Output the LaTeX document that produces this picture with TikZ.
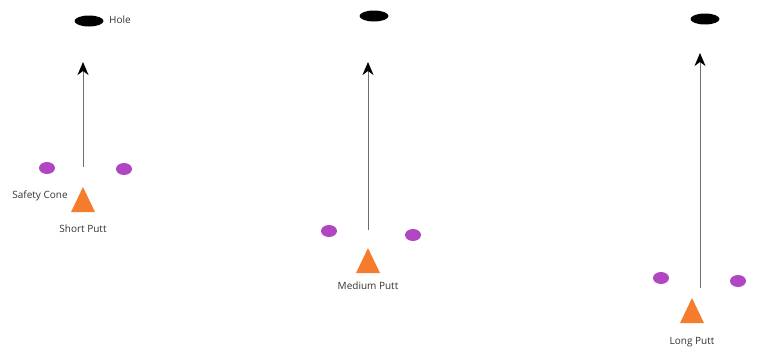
\documentclass[tikz,border=0pt]{standalone}
\usepackage{fontspec}
\setmainfont{Open Sans}
\usetikzlibrary{arrows.meta,shapes.geometric}
\definecolor{conepurple}{HTML}{B146C2}
\definecolor{coneorange}{HTML}{F47C2C}
\definecolor{linegray}{HTML}{6E6E6E}
\tikzset{
  hole/.style={ellipse, fill=black, minimum width=29pt, minimum height=11pt, inner sep=0pt},
  cone/.style={ellipse, fill=conepurple, minimum width=16pt, minimum height=12pt, inner sep=0pt},
  ball/.style={isosceles triangle, shape border rotate=90, isosceles triangle stretches, fill=coneorange, minimum width=24pt, minimum height=25pt, inner sep=0pt},
  lbl/.style={font=\fontsize{10}{12}\selectfont, text=black!80, inner sep=0pt},
  putt/.style={draw=linegray, line width=1pt, -{Stealth[length=13pt,width=11pt,inset=4pt,color=black]}}
}
\begin{document}
\begin{tikzpicture}[x=1pt,y=-1pt]
\useasboundingbox (0,0) rectangle (775,348);
% Panel 1: short putt
\node[hole] (h1) at (89,21) {};
\node[lbl, anchor=west] (hl) at (109,20) {Hole};
\coordinate (s1) at (83,167);
\coordinate (t1) at (83,62);
\draw[putt] (s1) -- (t1);
\node[cone] (c1a) at (47,168) {};
\node[cone] (c1b) at (124,169) {};
\node[ball] (b1) at (83,204.5) {};
\node[lbl] (sc) at (40,196) {Safety Cone};
\node[lbl] (l1) at (83,229) {Short Putt};
% Panel 2: medium putt
\node[hole] (h2) at (374,16) {};
\coordinate (s2) at (368,230);
\coordinate (t2) at (368,62);
\draw[putt] (s2) -- (t2);
\node[cone] (c2a) at (329,231) {};
\node[cone] (c2b) at (413,235) {};
\node[ball] (b2) at (368,265.5) {};
\node[lbl] (l2) at (368,286) {Medium Putt};
% Panel 3: long putt
\node[hole] (h3) at (705,19) {};
\coordinate (s3) at (700,288);
\coordinate (t3) at (700,53);
\draw[putt] (s3) -- (t3);
\node[cone] (c3a) at (661,278) {};
\node[cone] (c3b) at (738,281) {};
\node[ball] (b3) at (692,315.5) {};
\node[lbl] (l3) at (692,342) {Long Putt};
\end{tikzpicture}
\end{document}
